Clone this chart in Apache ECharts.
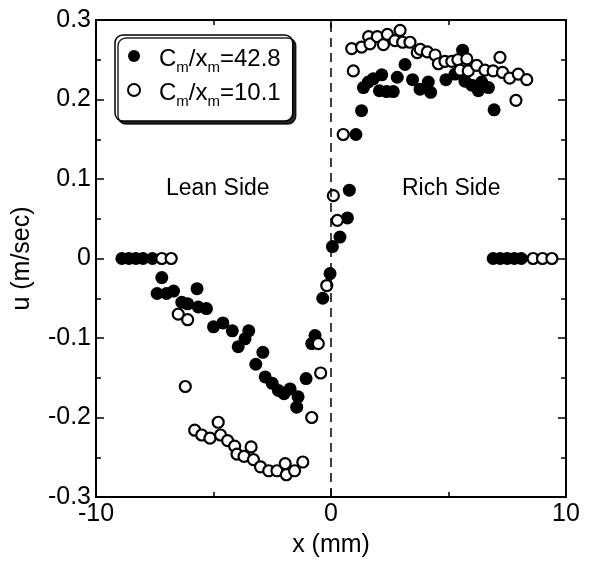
<!DOCTYPE html>
<html>
<head>
<meta charset="utf-8">
<script src="https://cdn.jsdelivr.net/npm/echarts@6.0.0/dist/echarts.min.js"></script>
<style>
  html, body { margin: 0; padding: 0; background: #fff; }
  #chart { width: 591px; height: 568px; }
</style>
</head>
<body>
<div id="chart"></div>
<script>
// Cm/xm = 42.8 (filled circles)
const fullX = [-8.9, -8.6, -8.3, -8.0, -7.6, -7.2, -7.4, -7.0, -6.7, -6.35, -6.1, -5.7, -5.65, -5.3,
  -5.0, -4.6, -4.2, -3.95, -3.66, -3.5, -3.2, -2.9, -2.8, -2.5, -2.24, -2.0, -1.74, -1.46, -1.4,
  -1.06, -0.82, -0.68, -0.35, -0.04, 0.06, 0.38, 0.7, 0.78, 1.06, 1.3, 1.38, 1.59, 1.8, 2.06, 2.16,
  2.37, 2.65, 2.82, 3.15, 3.47, 3.79, 4.14, 4.24, 4.89, 5.28, 5.6, 5.7, 5.99, 6.27, 6.41, 6.7, 6.94,
  6.9, 7.2, 7.5, 7.8, 8.1];
const fullU = [0, 0, 0, 0, 0, -0.024, -0.044, -0.044, -0.041, -0.055, -0.057, -0.038, -0.061, -0.063,
  -0.086, -0.081, -0.091, -0.111, -0.101, -0.091, -0.133, -0.118, -0.149, -0.157, -0.166, -0.170, -0.164, -0.187, -0.174,
  -0.151, -0.107, -0.097, -0.050, -0.019, 0.015, 0.027, 0.051, 0.086, 0.156, 0.186, 0.215, 0.222, 0.226, 0.211, 0.231,
  0.210, 0.210, 0.228, 0.244, 0.225, 0.213, 0.222, 0.209, 0.225, 0.232, 0.262, 0.223, 0.218, 0.211, 0.222, 0.215, 0.187,
  0, 0, 0, 0, 0];

// Cm/xm = 10.1 (open circles)
const openX = [-7.2, -6.8, -6.5, -6.1, -6.2, -5.8, -5.5, -5.15, -4.8, -4.7, -4.4, -4.1, -4.0, -3.7,
  -3.4, -3.3, -3.0, -2.65, -2.3, -1.95, -1.9, -1.55, -1.2, -0.82, -0.54, -0.44, -0.18, 0.1, 0.27, 0.52,
  0.88, 0.95, 1.3, 1.6, 1.66, 1.97, 2.23, 2.4, 2.72, 2.94, 3.05, 3.36, 3.67, 3.8, 4.1, 4.43, 4.57, 4.85,
  5.14, 5.4, 5.78, 5.49, 5.84, 6.2, 6.55, 6.9, 7.3, 7.6, 7.97, 8.33, 7.19, 7.87, 8.6, 9.0, 9.4];
const openU = [0, 0, -0.070, -0.077, -0.161, -0.216, -0.222, -0.226, -0.206, -0.222, -0.229, -0.236, -0.246, -0.249,
  -0.237, -0.253, -0.262, -0.267, -0.267, -0.258, -0.272, -0.267, -0.256, -0.200, -0.107, -0.144, -0.034, 0.079, 0.048, 0.156,
  0.264, 0.236, 0.266, 0.279, 0.270, 0.279, 0.269, 0.282, 0.274, 0.287, 0.272, 0.272, 0.259, 0.263, 0.260, 0.256, 0.245, 0.248,
  0.248, 0.250, 0.251, 0.237, 0.236, 0.243, 0.237, 0.236, 0.234, 0.227, 0.232, 0.225, 0.253, 0.199, 0, 0, 0];

const seriesNames = ['Cm/xm=42.8', 'Cm/xm=10.1'];
const xTicks = [-10, 0, 10];
const sideLabels = ['Lean Side', 'Rich Side'];

const font = 'Liberation Sans, Arial, sans-serif';
const zip = (xs, ys) => xs.map((x, i) => [x, ys[i]]);

const chart = echarts.init(document.getElementById('chart'));

const tickStyle = { show: true, inside: true, length: 8, lineStyle: { color: '#000', width: 1.5 } };
const minorStyle = { show: true, splitNumber: 2, length: 5, lineStyle: { color: '#000', width: 1.5 } };
const lineStyle = { show: true, onZero: false, lineStyle: { color: '#000', width: 2 } };

chart.setOption({
  animation: false,
  backgroundColor: '#fff',
  grid: { left: 96, right: 25, top: 20, bottom: 71 },
  legend: {
    left: 115, top: 35,
    orient: 'vertical',
    data: seriesNames,
    itemWidth: 12, itemHeight: 12, itemGap: 6,
    padding: [12, 12, 12, 12],
    backgroundColor: '#fff',
    borderColor: '#000', borderWidth: 1.5, borderRadius: 8,
    shadowColor: 'rgba(0,0,0,0.85)', shadowOffsetX: 3, shadowOffsetY: 3, shadowBlur: 0,
    formatter: function (name) {
      const val = name.split('=')[1];
      return '{g|}{t|C}{s|m}{t|/x}{s|m}{t|=' + val + '}';
    },
    textStyle: {
      color: '#000',
      fontFamily: font,
      rich: {
        g: { width: 14 },
        t: { fontSize: 24, fontFamily: font, color: '#000', lineHeight: 30, verticalAlign: 'bottom' },
        s: { fontSize: 15, fontFamily: font, color: '#000', lineHeight: 30, verticalAlign: 'bottom', padding: [0, 0, -4, 0] }
      }
    }
  },
  xAxis: [{
    type: 'value', min: -10, max: 10, interval: 10,
    name: 'x (mm)', nameLocation: 'middle', nameGap: 36,
    nameTextStyle: { fontSize: 25, fontFamily: font, color: '#000' },
    axisLine: lineStyle, axisTick: tickStyle, minorTick: minorStyle,
    splitLine: { show: false },
    axisLabel: { fontSize: 25, fontFamily: font, color: '#000', margin: 5,
      formatter: v => xTicks.includes(v) ? String(v) : '' }
  }, {
    type: 'value', min: -10, max: 10, interval: 10, position: 'top',
    axisLine: lineStyle, axisTick: tickStyle, minorTick: minorStyle,
    splitLine: { show: false }, axisLabel: { show: false }
  }],
  yAxis: [{
    type: 'value', min: -0.3, max: 0.3, interval: 0.1,
    name: 'u (m/sec)', nameLocation: 'middle', nameGap: 61, nameRotate: 90,
    nameTextStyle: { fontSize: 25, fontFamily: font, color: '#000' },
    axisLine: lineStyle, axisTick: tickStyle, minorTick: minorStyle,
    splitLine: { show: false },
    axisLabel: { fontSize: 25, fontFamily: font, color: '#000', margin: 5,
      formatter: v => Math.abs(v) < 1e-9 ? '0' : v.toFixed(1) }
  }, {
    type: 'value', min: -0.3, max: 0.3, interval: 0.1, position: 'right',
    axisLine: lineStyle, axisTick: tickStyle, minorTick: minorStyle,
    splitLine: { show: false }, axisLabel: { show: false }
  }],
  graphic: [
    { type: 'text', left: 166, top: 177, style: { text: sideLabels[0], font: '23px ' + font, fill: '#000' } },
    { type: 'text', left: 402, top: 177, style: { text: sideLabels[1], font: '23px ' + font, fill: '#000' } }
  ],
  series: [{
    name: seriesNames[0],
    type: 'scatter',
    symbol: 'circle',
    symbolSize: 13,
    itemStyle: { color: '#000', opacity: 1 },
    data: zip(fullX, fullU),
    markLine: {
      silent: true,
      symbol: 'none',
      label: { show: false },
      lineStyle: { color: '#000', width: 1.5, type: [9, 6] },
      data: [{ xAxis: 0 }]
    }
  }, {
    name: seriesNames[1],
    type: 'scatter',
    symbol: 'circle',
    symbolSize: 11,
    itemStyle: { color: '#fff', borderColor: '#000', borderWidth: 2.2, opacity: 1 },
    data: zip(openX, openU)
  }]
});
</script>
</body>
</html>
